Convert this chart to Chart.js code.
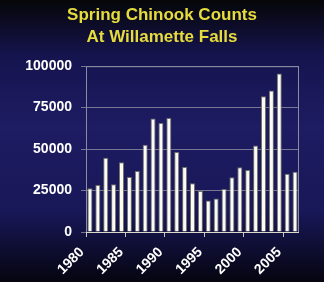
<!DOCTYPE html>
<html>
<head>
<meta charset="utf-8">
<script src="https://cdn.jsdelivr.net/npm/chart.js@4.4.1/dist/chart.umd.min.js"></script>
<style>
    html, body { margin: 0; padding: 0; background: #0a0a20; }
    #wrap { width: 324px; height: 282px; }
</style>
</head>
<body>
<div id="wrap"><canvas id="chart" width="324" height="282"></canvas></div>
<script>
// 数据
const years = ['1980', '1981', '1982', '1983', '1984', '1985', '1986', '1987', '1988',
    '1989', '1990', '1991', '1992', '1993', '1994', '1995', '1996', '1997', '1998',
    '1999', '2000', '2001', '2002', '2003', '2004', '2005', '2006'];
const counts = [26400, 28400, 44800, 28800, 42000, 33200, 36800, 52600, 68400,
    65800, 68800, 48200, 39200, 29400, 24800, 19000, 20200, 26000, 33000,
    39000, 37400, 52200, 81800, 85400, 95600, 35200, 36400];
const yTicks = [0, 25000, 50000, 75000, 100000];
const titleLines = ['Spring Chinook Counts', 'At Willamette Falls'];

// 背景渐变 + 绘图区边框
const backdrop = {
    id: 'backdrop',
    beforeDraw(chart) {
        const ctx = chart.ctx;
        const h = chart.height;
        const g = ctx.createLinearGradient(0, 0, 0, h);
        g.addColorStop(0, '#060608');
        g.addColorStop(0.2, '#15144f');
        g.addColorStop(0.45, '#1e1c62');
        g.addColorStop(0.75, '#181758');
        g.addColorStop(1, '#050510');
        ctx.save();
        ctx.fillStyle = g;
        ctx.fillRect(0, 0, chart.width, h);
        ctx.restore();
    },
    afterDatasetsDraw(chart) {
        const a = chart.chartArea;
        const ctx = chart.ctx;
        ctx.save();
        ctx.strokeStyle = '#8c8ca0';
        ctx.lineWidth = 1;
        ctx.strokeRect(a.left + 0.5, a.top + 0.5, a.right - a.left - 1, a.bottom - a.top);
        ctx.strokeStyle = '#d8d8c8';
        ctx.beginPath();
        ctx.moveTo(a.left, a.bottom + 0.5);
        ctx.lineTo(a.right, a.bottom + 0.5);
        ctx.stroke();
        ctx.restore();
    }
};

new Chart(document.getElementById('chart'), {
    type: 'bar',
    data: {
        labels: years,
        datasets: [{
            data: counts,
            backgroundColor: '#fbfbf2',
            borderColor: '#707068',
            borderWidth: 1,
            borderSkipped: 'bottom',
            categoryPercentage: 1,
            barPercentage: 0.64
        }]
    },
    options: {
        responsive: false,
        animation: false,
        layout: { padding: 0 },
        plugins: {
            legend: { display: false },
            tooltip: { enabled: false },
            title: {
                display: true,
                text: titleLines,
                color: '#e6dc3c',
                font: { family: 'Arial, "Liberation Sans", sans-serif', size: 17, weight: 'bold', lineHeight: 1.27 },
                padding: { top: 5, bottom: 18 }
            }
        },
        scales: {
            x: {
                offset: true,
                grid: {
                    offset: true,
                    drawOnChartArea: false,
                    drawTicks: true,
                    tickLength: 5,
                    color: ctx => (ctx.index % 5 === 0 ? '#c8c8b8' : 'rgba(0,0,0,0)')
                },
                border: { display: false },
                ticks: {
                    autoSkip: false,
                    minRotation: 45,
                    maxRotation: 45,
                    labelOffset: -8,
                    padding: 7,
                    color: '#ffffff',
                    font: { family: 'Arial, "Liberation Sans", sans-serif', size: 14, weight: 'bold' },
                    callback: (v, i) => (i % 5 === 0 ? years[i] : '')
                },
                afterFit: scale => { scale.height = 50; }
            },
            y: {
                min: 0,
                max: 100000,
                afterBuildTicks: scale => { scale.ticks = yTicks.map(v => ({ value: v })); },
                grid: {
                    color: 'rgba(150,150,165,0.75)',
                    tickLength: 5
                },
                border: { display: false },
                ticks: {
                    padding: 9,
                    color: '#ffffff',
                    font: { family: 'Arial, "Liberation Sans", sans-serif', size: 14, weight: 'bold' },
                    callback: v => String(v)
                },
                afterFit: scale => { scale.width = 86; }
            },
            // 右侧留白
            yRight: {
                position: 'right',
                min: 0,
                max: 100000,
                grid: { display: false },
                border: { display: false },
                ticks: { display: false },
                afterFit: scale => { scale.width = 25; }
            }
        }
    },
    plugins: [backdrop]
});
</script>
</body>
</html>
